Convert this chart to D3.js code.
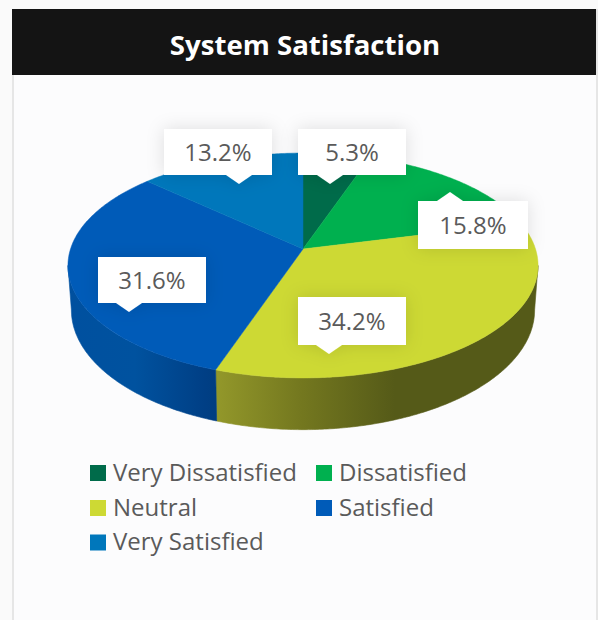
<!DOCTYPE html>
<html>
<head>
<meta charset="utf-8">
<script src="https://cdn.jsdelivr.net/npm/d3@7/dist/d3.min.js"></script>
<style>
html,body{margin:0;padding:0;background:#fafafa;overflow:hidden}
svg{display:block;font-family:"Open Sans",sans-serif}
</style>
</head>
<body>
<svg id="chart" width="598" height="620"></svg>
<script>
const titleText = "System Satisfaction";
const categories = ["Very Dissatisfied", "Dissatisfied", "Neutral", "Satisfied", "Very Satisfied"];
const percents = [5.3, 15.8, 34.2, 31.6, 13.2];
const colors = ["#006b4a", "#00b04f", "#cdd934", "#005bb8", "#0077bb"];

const svg = d3.select("#chart");
const defs = svg.append("defs");
const color = d3.scaleOrdinal().domain(categories).range(colors);

// panel
svg.append("rect").attr("x",12).attr("y",9).attr("width",586).attr("height",611).attr("fill","#e6e6e6");
svg.append("rect").attr("x",14).attr("y",75).attr("width",582).attr("height",545).attr("fill","#fcfcfd");
svg.append("rect").attr("x",12).attr("y",9).attr("width",584).attr("height",66).attr("fill","#141414");
svg.append("text").attr("x",305).attr("y",55).attr("text-anchor","middle")
  .attr("font-size",27.6).attr("font-weight",700).attr("fill","#fff").text(titleText);

// perspective projection of a unit circle (angle clockwise from the top)
const CX = 303;
function projector(cy, a, b, k) {
  return (angle, r = 1) => {
    const u = Math.sin(angle) * r, v = -Math.cos(angle) * r, w = 1 - k * v;
    return [CX + a * u / w, cy + b * v / w];
  };
}
const topK = 0.1467, baseK = 0.15;
const topFace = projector(249, 232.5, 110, topK);
const baseFace = projector(292, 229, 117, baseK);
// angle of the widest point of each rim, used to join the rims along the silhouette
const extreme = k => Math.acos(-k);

const arcs = d3.pie().sort(null).value(d => d).startAngle(0).endAngle(2 * Math.PI)(percents);
const line = d3.line();
const arcPoints = (proj, a0, a1) => {
  const n = Math.max(2, Math.ceil(Math.abs(a1 - a0) / 0.01));
  return d3.range(n + 1).map(i => proj(a0 + (a1 - a0) * i / n));
};

// side walls: a horizontal shade per visible slice
const wallShades = {
  "Neutral": [[218,"#92972a"],[300,"#74781f"],[395,"#555a18"],[540,"#555a18"]],
  "Satisfied": [[68,"#00509f"],[135,"#00529f"],[205,"#003f85"],[218,"#003d80"]]
};
const clamp = (a, k) => Math.min(Math.max(a, extreme(k)), 2 * Math.PI - extreme(k));
const walls = svg.append("g");
arcs.forEach((d, i) => {
  const shade = wallShades[categories[i]];
  if (!shade) return;
  const id = "wall" + i;
  const g = defs.append("linearGradient").attr("id", id).attr("gradientUnits", "userSpaceOnUse")
    .attr("x1", 68).attr("x2", 540).attr("y1", 0).attr("y2", 0);
  shade.forEach(s => g.append("stop").attr("offset", (s[0] - 68) / (540 - 68)).attr("stop-color", s[1]));
  const pts = arcPoints(topFace, clamp(d.startAngle, topK), clamp(d.endAngle, topK))
    .concat(arcPoints(baseFace, clamp(d.endAngle, baseK), clamp(d.startAngle, baseK)));
  walls.append("path").attr("d", line(pts) + "Z").attr("fill", `url(#${id})`)
    .attr("stroke", `url(#${id})`).attr("stroke-width", 0.6);
});

// top faces
const faces = svg.append("g");
arcs.forEach((d, i) => {
  const pts = [topFace(0, 0)].concat(arcPoints(topFace, d.startAngle, d.endAngle));
  faces.append("path").attr("d", line(pts) + "Z").attr("fill", color(categories[i]))
    .attr("stroke", color(categories[i])).attr("stroke-width", 0.5);
});

// value labels: box placement is annotation layout, order follows categories
const labelLayout = [
  {x:298, y:129, w:108, h:46, tip:330, dir: 1},
  {x:418, y:201, w:110, h:48, tip:450, dir:-1},
  {x:298, y:297, w:108, h:48, tip:329, dir: 1},
  {x:98,  y:257, w:108, h:46, tip:129, dir: 1},
  {x:164, y:129, w:108, h:46, tip:239, dir: 1}
];
const shadow = defs.append("filter").attr("id","labelShadow")
  .attr("x","-40%").attr("y","-60%").attr("width","180%").attr("height","220%");
shadow.append("feDropShadow").attr("dx",0).attr("dy",0).attr("stdDeviation",9)
  .attr("flood-color","#000").attr("flood-opacity",0.12);

const labels = svg.append("g");
percents.forEach((p, i) => {
  const l = labelLayout[i];
  const edge = l.dir > 0 ? l.y + l.h : l.y;
  const tipPts = [[l.tip - 13, edge], [l.tip, edge + l.dir * 9], [l.tip + 13, edge]];
  const g = labels.append("g").attr("filter", "url(#labelShadow)");
  g.append("rect").attr("x", l.x).attr("y", l.y).attr("width", l.w).attr("height", l.h).attr("fill", "#fff");
  g.append("path").attr("d", line(tipPts) + "Z").attr("fill", "#fff");
  labels.append("text").attr("x", l.x + l.w / 2).attr("y", l.y + l.h / 2 + 8.5)
    .attr("text-anchor", "middle").attr("font-size", 24).attr("fill", "#5a5a5a")
    .text(d3.format(".1f")(p) + "%");
});

// legend
const legendX = [90, 316];
const legendY = [465, 500, 534.5];
const legendBase = [481, 516, 550];
const legend = svg.append("g");
categories.forEach((c, i) => {
  const x = legendX[i % 2], row = Math.floor(i / 2);
  legend.append("rect").attr("x", x).attr("y", legendY[row]).attr("width", 16).attr("height", 16).attr("fill", color(c));
  legend.append("text").attr("x", x + 23).attr("y", legendBase[row]).attr("font-size", 24).attr("fill", "#5a5a5a").text(c);
});
</script>
</body>
</html>
